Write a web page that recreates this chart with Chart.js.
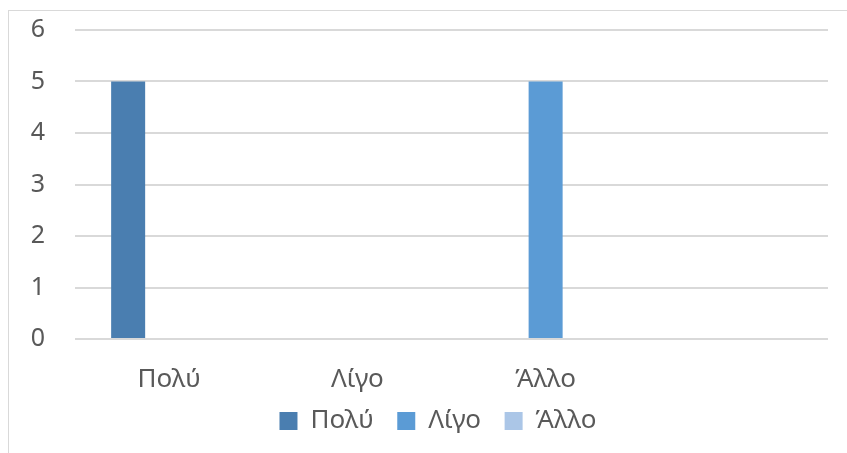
<!DOCTYPE html>
<html>
<head>
<meta charset="utf-8">
<script src="https://cdn.jsdelivr.net/npm/chart.js@4/dist/chart.umd.min.js"></script>
<style>
  html, body { margin: 0; padding: 0; background: #fff; overflow: hidden; }
  #frame { position: absolute; left: 8px; top: 10px; width: 900px; height: 500px; border: 1px solid #d9d9d9; }
  #wrap { position: absolute; left: 0; top: 0; width: 847px; height: 453px; }
</style>
</head>
<body>
<div id="frame"></div>
<div id="wrap"><canvas id="chart"></canvas></div>
<script>
// categories (the 4th one is empty in the original sheet)
const categories = ['Πολύ', 'Λίγο', 'Άλλο', ''];
const seriesNames = ['Πολύ', 'Λίγο', 'Άλλο'];
const polyValues = [5, 0, 0, 0];
const ligoValues = [0, 0, 5, 0];
const alloValues = [0, 0, 0, 0];
const seriesColors = ['#4a7eb0', '#5b9bd5', '#abc6e7'];
const yTicks = [0, 1, 2, 3, 4, 5, 6];

const textColor = '#595959';
const fontFamily = "'Noto Sans', 'Open Sans', sans-serif";
// extra spacing after each legend entry (legend padding is kept small vertically)
const legendGap = ['  ', '  ', '    '];

const ctx = document.getElementById('chart').getContext('2d');

new Chart(ctx, {
    type: 'bar',
    data: {
        labels: categories,
        datasets: [polyValues, ligoValues, alloValues].map((vals, i) => ({
            label: seriesNames[i],
            data: vals,
            backgroundColor: seriesColors[i],
            borderWidth: 0,
            categoryPercentage: 0.653,
            barPercentage: 0.83
        }))
    },
    options: {
        responsive: true,
        maintainAspectRatio: false,
        animation: false,
        layout: { padding: { top: 30, right: 19, left: 0, bottom: 9 } },
        plugins: {
            tooltip: { enabled: false },
            legend: {
                position: 'bottom',
                fullSize: false,
                labels: {
                    color: textColor,
                    font: { family: fontFamily, size: 26 },
                    boxWidth: 18,
                    boxHeight: 18,
                    padding: 10,
                    generateLabels: (chart) =>
                        Chart.defaults.plugins.legend.labels.generateLabels(chart)
                            .map((item, i) => ({ ...item, text: item.text + legendGap[i] }))
                }
            }
        },
        scales: {
            x: {
                afterFit: (scale) => { scale.height = 59; },
                grid: { display: false },
                border: { display: false },
                ticks: {
                    color: textColor,
                    font: { family: fontFamily, size: 26 },
                    padding: 17,
                    maxRotation: 0
                }
            },
            y: {
                min: yTicks[0],
                max: yTicks[yTicks.length - 1],
                afterFit: (scale) => { scale.width = 75; },
                afterBuildTicks: (scale) => { scale.ticks = yTicks.map(v => ({ value: v })); },
                grid: { color: '#d9d9d9', lineWidth: 2, tickLength: 30, tickColor: 'rgba(0,0,0,0)' },
                border: { display: false },
                ticks: {
                    color: textColor,
                    font: { family: fontFamily, size: 25 },
                    padding: 0
                }
            }
        }
    }
});
</script>
</body>
</html>
